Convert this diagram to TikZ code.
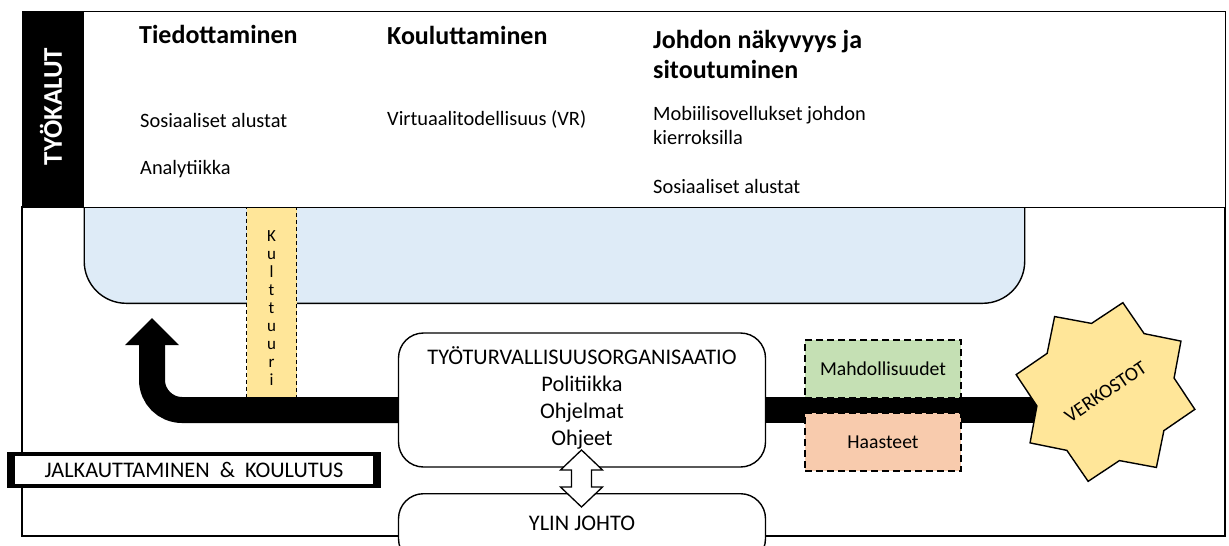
\documentclass[tikz,border=0pt]{standalone}
\usepackage{fontspec}
\setmainfont{Carlito}
\usetikzlibrary{arrows.meta}

\definecolor{paleblue}{HTML}{DEEBF7}
\definecolor{paleyellow}{HTML}{FFE699}
\definecolor{palegreen}{HTML}{C5E0B4}
\definecolor{paleorange}{HTML}{F8CBAD}

\newcommand\headfont{\bfseries\fontsize{26}{30}\selectfont}
\newcommand\bodyfont{\fontsize{20.4}{24}\selectfont}
\newcommand\boxfont{\fontsize{19.7}{24}\selectfont}
\newcommand\orgfont{\fontsize{22.3}{27}\selectfont}

\begin{document}
\begin{tikzpicture}[x=1pt, y=-1pt,
  outline/.style={draw=black, line width=1.4pt},
  txt/.style={inner sep=0pt, anchor=base west, align=left, font=\bodyfont},
  head/.style={inner sep=0pt, anchor=base west, align=left, font=\headfont},
  dashbox/.style={draw=black, line width=1.4pt, dash pattern=on 7pt off 4pt,
    minimum width=156pt, minimum height=58pt, inner sep=0pt, font=\boxfont},
  roundbox/.style={outline, fill=white, rounded corners=25pt, inner sep=0pt,
    minimum width=367pt},
  band/.style={line width=26pt, black}]
\clip (0,0) rectangle (1229,546);

% lower frame
\draw[outline] (22,207) rectangle (1225,536);

% blue working area (its top edge is hidden under the tools panel)
\node[outline, fill=paleblue, rounded corners=42pt, anchor=south west,
  minimum width=940.5pt, minimum height=160pt, inner sep=0pt] (area) at (83.5,304) {};

% tools panel with its black title strip
\node[outline, fill=white, anchor=north west, minimum width=1203pt,
  minimum height=196pt, inner sep=0pt] (tools) at (22,11) {};
\node[fill=black, anchor=north west, minimum width=61.5pt, minimum height=196pt,
  inner sep=0pt] (strip) at (22,11) {};
\node[rotate=90, text=white, font=\bfseries\fontsize{27}{30}\selectfont,
  inner sep=0pt] (toolsT) at (51,106.5) {TYÖKALUT};

% tools panel texts (multi-line nodes sit on the baseline of their last line)
\node[head] (h1) at (139,43) {Tiedottaminen};
\node[txt] (t11) at (140,127) {Sosiaaliset alustat};
\node[txt] (t12) at (140,174) {Analytiikka};
\node[head] (h2) at (387,44) {Kouluttaminen};
\node[txt] (t21) at (387,125) {Virtuaalitodellisuus (VR)};
\node[head] (h3) at (653,78) {Johdon näkyvyys ja\\sitoutuminen};
\node[txt] (t31) at (653,144) {Mobiilisovellukset johdon\\kierroksilla};
\node[txt] (t32) at (653,193) {Sosiaaliset alustat};

% culture column
\node[draw=black, line width=1.4pt, dash pattern=on 4pt off 3pt, fill=paleyellow,
  anchor=north, minimum width=50pt, minimum height=190pt, inner sep=0pt] (culture) at (271.5,207) {};
\node[align=center, inner sep=0pt, font=\fontsize{17}{18}\selectfont] (cultureT)
  at (271.5,308) {K\\u\\l\\t\\t\\u\\u\\r\\i};

% organisation and top management
\node[roundbox, minimum height=134pt] (org) at (582,400) {};
\node[inner sep=0pt, anchor=base, align=center, font=\orgfont] (orgT) at (582,445)
  {TYÖTURVALLISUUSORGANISAATIO\\Politiikka\\Ohjelmat\\Ohjeet};
\node[roundbox, minimum height=70pt, anchor=north] (mgmt) at (582,493) {};
\node[inner sep=0pt, anchor=base, font=\orgfont] (mgmtT) at (582,530) {YLIN JOHTO};

% main band: back to the working area, and out to the networks
\coordinate (bandY) at (0,410);
\coordinate (upTip) at (152,318);
\coordinate (net) at (1105.5,392);
\draw[band, rounded corners=30pt,
  -{Triangle[length=27pt 0 0, width=54pt 0 0, line width=0pt 0 0]}]
  (org.west |- bandY) -- (upTip |- bandY) -- (upTip);
\draw[band] (org.east |- bandY) -- (net |- bandY);

% eight-pointed networks star
\draw[outline, fill=paleyellow, line join=miter, shift={(net)}]
  (-79:91) \foreach \k in {0,...,7} { -- ({-79+45*\k}:91) -- ({-56.5+45*\k}:70) } -- cycle;
\node[rotate=34, inner sep=0pt, font=\boxfont] (netT) at (net) {VERKOSTOT};

% opportunities and challenges on the band
\node[dashbox, fill=palegreen] (opp) at (883,369) {Mahdollisuudet};
\node[dashbox, fill=paleorange] (chal) at (883,442) {Haasteet};

% two-way link between organisation and management
\coordinate (link) at (581.5,450);
\draw[outline, fill=white, line width=1.3pt, line join=miter]
  (link) -- ++(21,20) -- ++(-11,0) -- ++(0,17) -- ++(11,0)
  -- ++(-21,20) -- ++(-21,-20) -- ++(11,0) -- ++(0,-17) -- ++(-11,0) -- cycle;

% implementation & training label
\node[fill=black, minimum width=374pt, minimum height=36pt, inner sep=0pt] (impl) at (194,470) {};
\node[fill=white, minimum width=358pt, minimum height=28pt, inner sep=0pt,
  font=\orgfont] (implT) at (impl.center)
  {JALKAUTTAMINEN\ \ \&\ \ KOULUTUS};
\end{tikzpicture}
\end{document}
